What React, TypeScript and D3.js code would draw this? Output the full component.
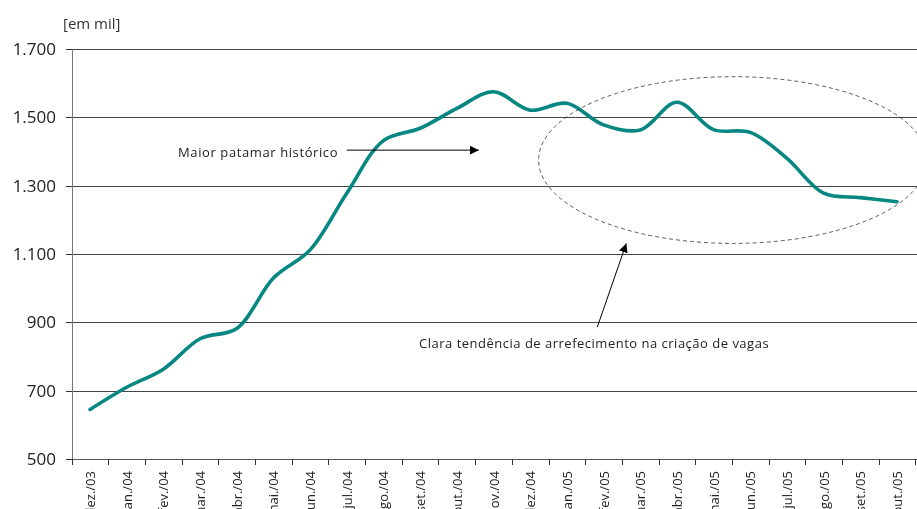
import React from "react";
import * as d3 from "d3";

// monthly stock, thousands
const months = [
  "dez./03", "jan./04", "fev./04", "mar./04", "abr./04", "mai./04", "jun./04",
  "jul./04", "ago./04", "set./04", "out./04", "nov./04", "dez./04", "jan./05",
  "fev./05", "mar./05", "abr./05", "mai./05", "jun./05", "jul./05", "ago./05",
  "set./05", "out./05",
];
const values = [
  645, 710, 763, 852, 882, 1030, 1112, 1278, 1432, 1468, 1526, 1575, 1521, 1541,
  1478, 1463, 1544, 1464, 1456, 1380, 1278, 1265, 1253,
];
const yTicks = [500, 700, 900, 1100, 1300, 1500, 1700];

// annotations in data units (month index, value)
const noteTop = { text: "Maior patamar histórico", at: [2.4, 1383], from: [7.0, 1404], to: [10.6, 1404] };
const noteBottom = {
  text: "Clara tendência de arrefecimento na criação de vagas",
  at: [8.97, 826], from: [13.83, 386 + 500], to: [14.62, 1131],
};
const ellipse = { center: [17.53, 1375], rx: 5.3, ry: 244 };

const W = 917;
const H = 509;
const font = "'Open Sans', sans-serif";
const fmt = (v: number) => d3.format(",")(v).replace(/,/g, ".");

const App = () => {
  const x = d3.scaleBand().domain(months).range([71.7, 915.3]);
  const y = d3.scaleLinear().domain([500, 1700]).range([459, 49]);
  const bw = x.bandwidth();
  const xi = d3.scaleLinear().domain([0, months.length - 1])
    .range([x(months[0])! + bw / 2, x(months[months.length - 1])! + bw / 2]);

  const line = d3.line<number>()
    .x((d, i) => x(months[i])! + bw / 2)
    .y((d) => y(d))
    .curve(d3.curveCatmullRom.alpha(0.5));

  const cx = xi(ellipse.center[0]);
  const cy = y(ellipse.center[1]);
  const rx = xi(ellipse.rx) - xi(0);
  const ry = y(500) - y(500 + ellipse.ry);

  return (
    <div style={{ position: "fixed", left: 0, top: 0 }}>
      <svg width={W} height={H} style={{ display: "block", fontFamily: font }}>
        <defs>
          <marker id="head" viewBox="0 0 10 10" refX="10" refY="5" markerWidth="9" markerHeight="9"
            markerUnits="userSpaceOnUse" orient="auto">
            <path d="M0,0 L10,5 L0,10 Z" fill="#000" />
          </marker>
        </defs>

        <text x={63} y={29} fontSize={15} fill="#333">[em mil]</text>

        {/* grid + y ticks */}
        {yTicks.map((t) => (
          <g key={t}>
            <line x1={72} x2={W} y1={Math.round(y(t)) + 0.5} y2={Math.round(y(t)) + 0.5}
              stroke={t === 500 ? "#555" : "#444"} strokeWidth={1} shapeRendering="crispEdges" />
            <line x1={66} x2={72} y1={Math.round(y(t)) + 0.5} y2={Math.round(y(t)) + 0.5}
              stroke="#333" shapeRendering="crispEdges" />
            <text x={56} y={y(t)} dy="0.36em" textAnchor="end" fontSize={17} fill="#222">{fmt(t)}</text>
          </g>
        ))}
        <line x1={72.5} x2={72.5} y1={49} y2={459} stroke="#777" shapeRendering="crispEdges" />

        {/* x ticks + labels */}
        {months.map((m) => (
          <g key={m}>
            <line x1={Math.round(x(m)!) + 0.5} x2={Math.round(x(m)!) + 0.5} y1={459} y2={465}
              stroke="#333" shapeRendering="crispEdges" />
            <text transform={`translate(${x(m)! + bw / 2 + 5},471) rotate(-90)`} textAnchor="end"
              fontSize={13} fill="#222">{m}</text>
          </g>
        ))}
        <line x1={915.5} x2={915.5} y1={459} y2={465} stroke="#333" shapeRendering="crispEdges" />

        <path d={line(values)!} fill="none" stroke="#078781" strokeWidth={3.6}
          strokeLinejoin="round" strokeLinecap="round" />

        <ellipse cx={cx} cy={cy} rx={rx} ry={ry} fill="none" stroke="#333"
          strokeWidth={0.8} strokeDasharray="4,3" />

        <text x={xi(noteTop.at[0])} y={y(noteTop.at[1])} fontSize={13} letterSpacing={0.6} fill="#222">
          {noteTop.text}
        </text>
        <line x1={xi(noteTop.from[0])} y1={y(noteTop.from[1])} x2={xi(noteTop.to[0])} y2={y(noteTop.to[1])}
          stroke="#000" strokeWidth={1} markerEnd="url(#head)" />

        <text x={xi(noteBottom.at[0])} y={y(noteBottom.at[1])} fontSize={13} letterSpacing={0.5} fill="#222">
          {noteBottom.text}
        </text>
        <line x1={xi(noteBottom.from[0])} y1={y(noteBottom.from[1])} x2={xi(noteBottom.to[0])} y2={y(noteBottom.to[1])}
          stroke="#000" strokeWidth={1} markerEnd="url(#head)" />
      </svg>
    </div>
  );
};

export default App;
